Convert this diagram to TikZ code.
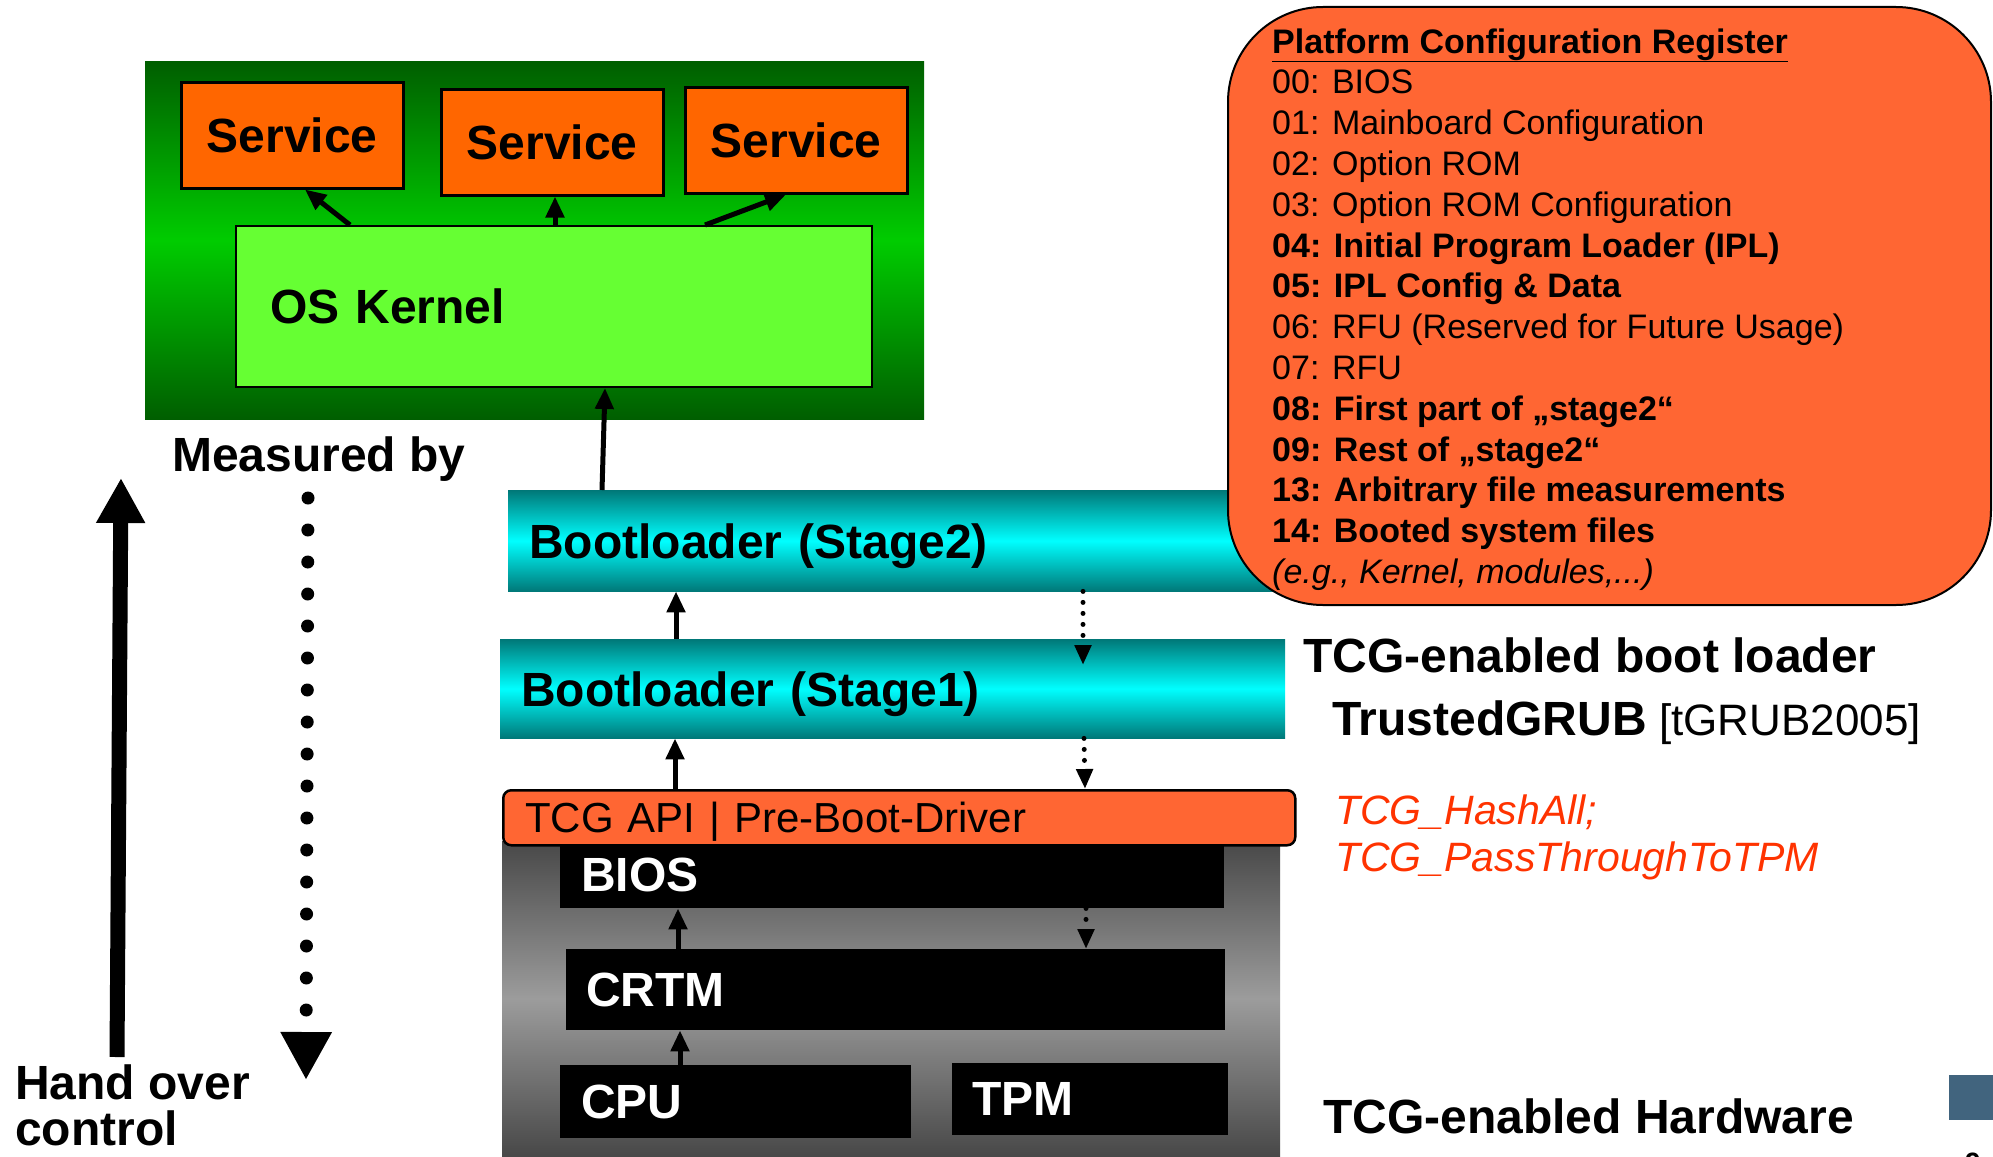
\documentclass[tikz,border=0pt]{standalone}
\usepackage{fontspec}
\setmainfont{Liberation Sans}
\usepackage{tikz}
\usetikzlibrary{arrows.meta}

\definecolor{serviceorange}{HTML}{FF6600}
\definecolor{pcrorange}{HTML}{FF6633}
\definecolor{kernelgreen}{HTML}{66FF33}
\definecolor{darkgreen}{HTML}{005E00}
\definecolor{lightgreen}{HTML}{00CC00}
\definecolor{darkteal}{HTML}{007878}
\definecolor{lightcyan}{HTML}{00FFFF}
\definecolor{darkgraybox}{HTML}{484848}
\definecolor{lightgraybox}{HTML}{9C9C9C}
\definecolor{apired}{HTML}{FF3300}
\definecolor{slideblue}{HTML}{41647E}

\newcommand{\hugebf}{\fontsize{48}{56}\selectfont\bfseries}
\newcommand{\pcrfont}{\fontsize{34}{41}\selectfont}

\begin{document}
\begin{tikzpicture}[x=1pt,y=-1pt,
    box/.style={anchor=north west, inner sep=0pt, align=left},
    svcbox/.style={box, draw=black, line width=2.5pt, fill=serviceorange, minimum width=222pt, minimum height=106pt, align=center, font=\hugebf},
    blackbox/.style={box, fill=black, text=white, font=\hugebf},
    loaderbox/.style={box, top color=darkteal, bottom color=darkteal, middle color=lightcyan, font=\hugebf, text depth=0pt},
    sidetext/.style={anchor=base west, inner sep=0pt},
    flow/.style={line width=5pt, -{Triangle[length=21pt,width=18pt]}},
    measure/.style={line width=5pt, line cap=round, dash pattern=on 0pt off 11pt, -{Triangle[length=20pt,width=16pt]}}]
    \useasboundingbox (0,0) rectangle (1993,1156);
    \fill[white] (0,0) rectangle (1993,1156);

    % OS level
    \node[box, minimum width=779pt, minimum height=358pt, top color=darkgreen, bottom color=darkgreen, middle color=lightgreen] (osarea) at (145,61) {};
    \node[svcbox] (svc1) at (180,81) {Service};
    \node[svcbox] (svc2) at (440,88) {Service};
    \node[svcbox] (svc3) at (684,86) {Service};
    \node[box, draw=black, line width=2pt, fill=kernelgreen, minimum height=161pt, text width=568pt, inner xsep=34pt, font=\hugebf] (kernel) at (235,225) {OS Kernel};

    % hardware
    \node[box, minimum width=778pt, minimum height=315pt, top color=darkgraybox, bottom color=darkgraybox, middle color=lightgraybox] (hwarea) at (502,841) {};
    \node[blackbox, minimum height=66pt, text width=622pt, inner xsep=21pt] (bios) at (560,842) {BIOS};
    \node[blackbox, minimum height=81pt, text width=619pt, inner xsep=20pt] (crtm) at (566,949) {CRTM};
    \node[blackbox, minimum height=73pt, text width=309pt, inner xsep=21pt] (cpu) at (560,1065) {CPU};
    \node[blackbox, minimum height=72pt, text width=236pt, inner xsep=20pt] (tpm) at (952,1063) {TPM};
    \node[box, draw=black, line width=2.5pt, rounded corners=8pt, fill=pcrorange, minimum height=55pt, text width=748pt, inner xsep=22pt, text depth=0pt, font=\fontsize{42}{50}\selectfont] (tcgapi) at (502,789) {TCG API | Pre-Boot-Driver};

    % boot loader
    \node[loaderbox, minimum height=99pt, text width=743pt, inner xsep=21pt] (stage1) at (500,639) {Bootloader (Stage1)};
    \node[loaderbox, minimum height=101pt, text width=740pt, inner xsep=21pt] (stage2) at (508,490) {Bootloader (Stage2)};

    % PCR list
    \node[box, draw=black, line width=2pt, fill=pcrorange, rounded corners=95pt, minimum width=763pt, minimum height=598pt] (pcr) at (1227,6) {};
    \foreach \txt [count=\i from 0] in {
        {\underline{\textbf{Platform Configuration Register}}},
        {00: BIOS},
        {01: Mainboard Configuration},
        {02: Option ROM},
        {03: Option ROM Configuration},
        {\textbf{04: Initial Program Loader (IPL)}},
        {\textbf{05: IPL Config \& Data}},
        {06: RFU (Reserved for Future Usage)},
        {07: RFU},
        {\textbf{08: First part of „stage2“}},
        {\textbf{09: Rest of „stage2“}},
        {\textbf{13: Arbitrary file measurements}},
        {\textbf{14: Booted system files}},
        {\textit{(e.g., Kernel, modules,...)}}}
        \node[sidetext, font=\pcrfont] (pcrline\i) at (1272,{53+40.8*\i}) {\txt};

    % side texts
    \node[sidetext, font=\hugebf] (measured) at (172,471) {Measured by};
    \node[box, font=\fontsize{48}{46}\selectfont\bfseries] (handover) at (15,1065) {Hand over\\control};
    \node[sidetext, font=\hugebf] (bootlabel) at (1303,672) {TCG-enabled boot loader};
    \node[sidetext, font=\fontsize{44}{56}\selectfont] (grublabel) at (1332,735) {\textbf{\fontsize{48}{56}\selectfont TrustedGRUB} [tGRUB2005]};
    \node[box, text=apired, font=\fontsize{41}{47}\selectfont\itshape] (apicalls) at (1335,795) {TCG\_HashAll;\\TCG\_PassThroughToTPM};
    \node[sidetext, font=\hugebf] (hwlabel) at (1323,1133) {TCG-enabled Hardware};
    \node[box, fill=slideblue, minimum width=44pt, minimum height=45pt] (slidemark) at (1949,1075) {};
    \node[sidetext, font=\fontsize{28}{32}\selectfont\bfseries] (pagenum) at (1965,1172) {9};

    % hand over / measured by
    \coordinate (handstart) at (117,1057);
    \coordinate (handtip) at (121,478);
    \draw[line width=15pt, -{Triangle[length=45pt,width=46pt]}] (handstart) -- (handtip);
    \coordinate (measstart) at (308,498);
    \coordinate (measend) at (306,1080);
    \draw[line width=13pt, line cap=round, dash pattern=on 0pt off 32pt, -{Triangle[length=48pt,width=48pt]}] (measstart) -- (measend);

    % control flow
    \draw[flow] ([xshift=115pt]kernel.north west) -- ([xshift=125pt]svc1.south west);
    \draw[flow] ([xshift=320pt]kernel.north west) -- ([xshift=115pt]svc2.south west);
    \draw[flow] ([xshift=470pt]kernel.north west) -- ([xshift=102pt]svc3.south west);
    \draw[flow] ([xshift=94pt]stage2.north west) -- ([xshift=370pt]kernel.south west);
    \draw[flow] ([xshift=176pt]stage1.north west) -- ([xshift=168pt]stage2.south west);
    \draw[flow] ([xshift=173pt]tcgapi.north west) -- ([xshift=175pt]stage1.south west);
    \draw[flow] ([xshift=112pt]crtm.north west) -- ([xshift=118pt]bios.south west);
    \draw[flow] ([xshift=120pt]cpu.north west) -- ([xshift=114pt]crtm.south west);

    % measurements
    \draw[measure] ([xshift=575pt]stage2.south west) -- ([xshift=583pt,yshift=-26pt]stage1.north west);
    \draw[measure] ([xshift=584pt]stage1.south west) -- ([xshift=583pt]tcgapi.north west);
    \draw[measure] ([xshift=526pt]bios.south west) -- ([xshift=520pt]crtm.north west);
\end{tikzpicture}
\end{document}
